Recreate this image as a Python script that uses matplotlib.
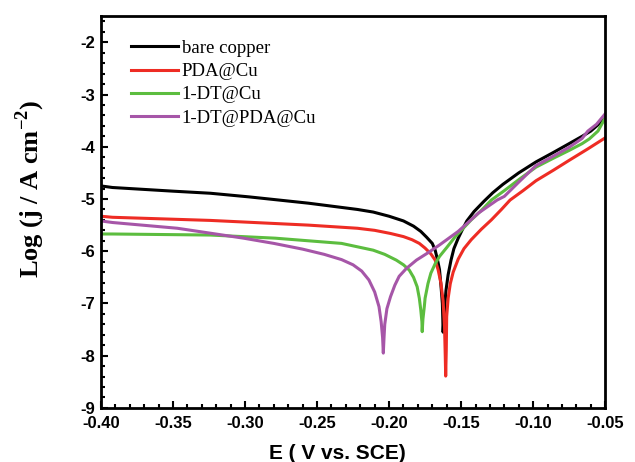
"""Tafel polarisation curves: bare copper vs PDA / 1-DT coated copper."""

import numpy as np
import matplotlib as mpl
import matplotlib.pyplot as plt
from matplotlib.ticker import MultipleLocator, FormatStrFormatter


# ──────────────────────────────────────────────────────────────────────
# Data
# ──────────────────────────────────────────────────────────────────────

BARE_E = [-0.400, -0.392, -0.350, -0.324, -0.297, -0.256, -0.222, -0.211,
          -0.200, -0.190, -0.183, -0.178, -0.174, -0.170, -0.168, -0.1665,
          -0.165, -0.164, -0.163, -0.1627, -0.1625, -0.1615, -0.1605, -0.159,
          -0.157, -0.155, -0.152, -0.149, -0.146, -0.141, -0.134, -0.128,
          -0.121, -0.110, -0.098, -0.086, -0.075, -0.066, -0.060, -0.055,
          -0.050]
BARE_LOGJ = [-4.75, -4.78, -4.85, -4.89, -4.96, -5.08, -5.20, -5.25,
             -5.33, -5.42, -5.52, -5.62, -5.73, -5.85, -5.98, -6.15,
             -6.35, -6.65, -7.00, -7.30, -7.55, -7.10, -6.75, -6.45,
             -6.17, -5.95, -5.75, -5.58, -5.42, -5.24, -5.04, -4.88,
             -4.72, -4.50, -4.29, -4.11, -3.94, -3.80, -3.70, -3.58,
             -3.45]

PDA_E = [-0.400, -0.392, -0.324, -0.256, -0.222, -0.210, -0.199, -0.190,
         -0.184, -0.179, -0.175, -0.171, -0.168, -0.166, -0.164, -0.1625,
         -0.1615, -0.161, -0.1607, -0.1603, -0.160, -0.159, -0.1575, -0.1555,
         -0.152, -0.148, -0.143, -0.136, -0.129, -0.122, -0.116, -0.107,
         -0.098, -0.086, -0.075, -0.062, -0.050]
PDA_LOGJ = [-5.33, -5.35, -5.41, -5.50, -5.56, -5.60, -5.66, -5.72,
            -5.78, -5.85, -5.94, -6.05, -6.17, -6.35, -6.61, -6.95,
            -7.45, -8.00, -8.39, -7.90, -7.25, -6.90, -6.62, -6.40,
            -6.15, -5.95, -5.78, -5.58, -5.40, -5.20, -5.02, -4.84,
            -4.65, -4.45, -4.26, -4.04, -3.83]

DT_E = [-0.400, -0.392, -0.324, -0.279, -0.233, -0.211, -0.203, -0.195,
        -0.190, -0.186, -0.183, -0.1805, -0.179, -0.178, -0.1772, -0.177,
        -0.1765, -0.1755, -0.175, -0.173, -0.171, -0.168, -0.165, -0.160,
        -0.154, -0.143, -0.136, -0.129, -0.120, -0.109, -0.098, -0.086,
        -0.075, -0.066, -0.061, -0.055, -0.050]
DT_LOGJ = [-5.67, -5.67, -5.69, -5.75, -5.85, -5.98, -6.06, -6.17,
           -6.26, -6.36, -6.50, -6.68, -6.90, -7.12, -7.35, -7.54,
           -7.30, -7.05, -6.90, -6.62, -6.42, -6.24, -6.10, -5.93,
           -5.72, -5.40, -5.22, -5.02, -4.84, -4.61, -4.39, -4.22,
           -4.07, -3.94, -3.85, -3.70, -3.45]

DT_PDA_E = [-0.400, -0.392, -0.347, -0.301, -0.280, -0.260, -0.245, -0.233,
            -0.225, -0.219, -0.214, -0.210, -0.207, -0.2055, -0.2045, -0.204,
            -0.2035, -0.203, -0.2015, -0.199, -0.196, -0.193, -0.188, -0.181,
            -0.173, -0.165, -0.152, -0.138, -0.125, -0.120, -0.109, -0.098,
            -0.086, -0.075, -0.066, -0.062, -0.056, -0.050]
DT_PDA_LOGJ = [-5.42, -5.45, -5.56, -5.75, -5.85, -5.96, -6.06, -6.16,
               -6.26, -6.38, -6.55, -6.78, -7.06, -7.35, -7.65, -7.95,
               -7.65, -7.40, -7.10, -6.87, -6.65, -6.48, -6.33, -6.17,
               -6.03, -5.88, -5.62, -5.27, -5.02, -4.95, -4.65, -4.36,
               -4.18, -4.01, -3.84, -3.70, -3.57, -3.37]

# label -> (E, logj, colour); dict order = legend order
SERIES = {
    "bare copper": (BARE_E, BARE_LOGJ, "#000000"),
    "PDA@Cu": (PDA_E, PDA_LOGJ, "#EE2C24"),
    "1-DT@Cu": (DT_E, DT_LOGJ, "#5CBD3F"),
    "1-DT@PDA@Cu": (DT_PDA_E, DT_PDA_LOGJ, "#A656A8"),
}


# ──────────────────────────────────────────────────────────────────────
# Style
# ──────────────────────────────────────────────────────────────────────

mpl.rcParams.update({
    "font.family": "sans-serif",
    "font.sans-serif": ["Liberation Sans", "DejaVu Sans"],
    "font.serif": ["Liberation Serif", "DejaVu Serif"],
    "mathtext.fontset": "custom",
    "mathtext.rm": "Liberation Serif",
    "mathtext.bf": "Liberation Serif:bold",
    "axes.linewidth": 2.0,
    "xtick.direction": "in",
    "ytick.direction": "in",
    "xtick.major.size": 5,
    "ytick.major.size": 5,
    "xtick.minor.size": 3,
    "ytick.minor.size": 3,
    "xtick.major.width": 1.5,
    "ytick.major.width": 1.5,
    "xtick.minor.width": 1.5,
    "ytick.minor.width": 1.5,
})


def main():
    fig = plt.figure(figsize=(6.35, 4.62), dpi=100)
    ax = fig.add_axes([0.159, 0.117, 0.794, 0.848])

    for label, (e, logj, colour) in SERIES.items():
        ax.plot(np.asarray(e), np.asarray(logj), color=colour, lw=2.2,
                label=label, solid_joinstyle="round")

    ax.set_xlim(-0.40, -0.05)
    ax.set_ylim(-9, -1.5)
    ax.xaxis.set_major_locator(MultipleLocator(0.05))
    ax.xaxis.set_minor_locator(MultipleLocator(0.01))
    ax.xaxis.set_major_formatter(FormatStrFormatter("%.2f"))
    ax.yaxis.set_major_locator(MultipleLocator(1))
    ax.yaxis.set_minor_locator(MultipleLocator(0.2))
    ax.yaxis.set_major_formatter(FormatStrFormatter("%d"))
    ax.tick_params(which="both", top=False, right=False)
    ax.tick_params(axis="x", which="major", labelsize=12, pad=6)
    ax.tick_params(axis="y", which="major", labelsize=12, pad=4)
    for lbl in ax.get_xticklabels() + ax.get_yticklabels():
        lbl.set_fontweight("bold")

    ax.set_xlabel("E ( V vs. SCE)", fontsize=15, fontweight="bold")
    ax.xaxis.set_label_coords(0.468, -0.092)
    ax.set_ylabel(r"Log (j / A cm$^{\mathbf{-2}}$)", fontsize=19,
                  fontweight="bold", family="serif")
    ax.yaxis.set_label_coords(-0.107, 0.56)

    ax.legend(loc="upper left", bbox_to_anchor=(0.06, 0.94),
              frameon=False, borderpad=0, borderaxespad=0,
              handlelength=2.5, handletextpad=0.2, labelspacing=0.33,
              prop={"family": "serif", "size": 13.5})

    fig.savefig("out.png", dpi=100)
    plt.close(fig)


if __name__ == "__main__":
    main()
